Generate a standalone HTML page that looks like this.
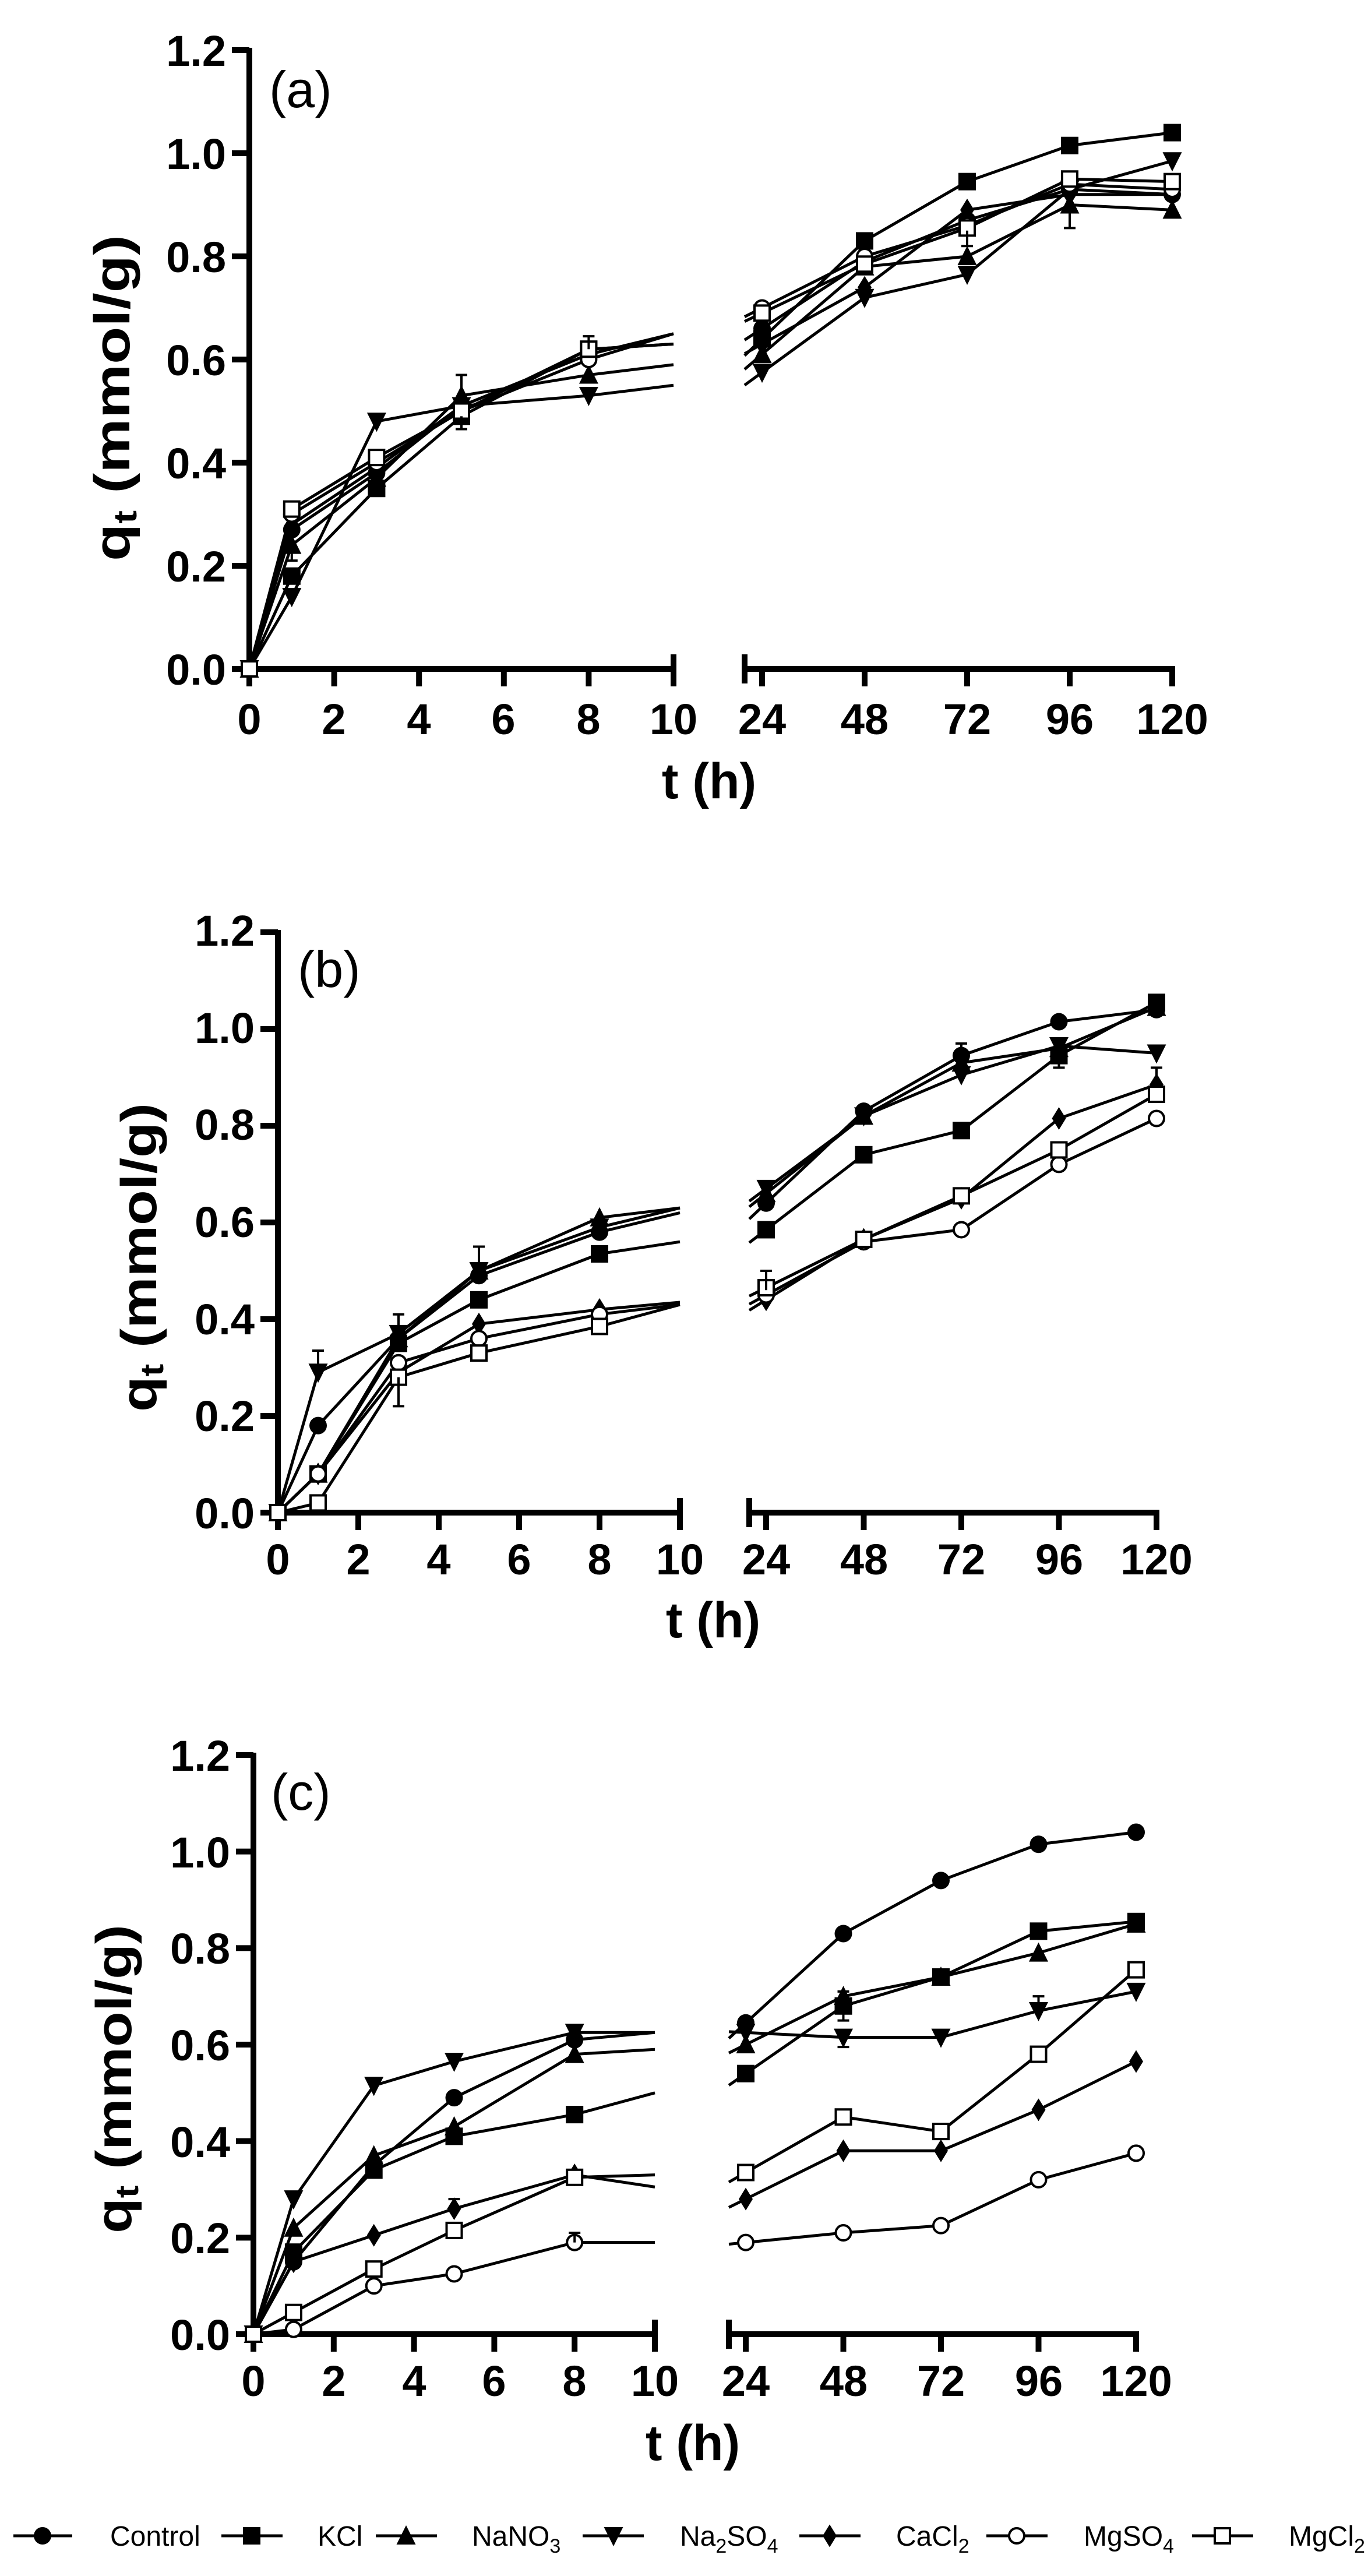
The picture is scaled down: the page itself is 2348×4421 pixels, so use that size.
<!DOCTYPE html>
<html><head><meta charset="utf-8"><style>
html,body{margin:0;padding:0;background:#fff;}
svg{display:block}
text{font-family:"Liberation Sans",Arial,sans-serif;fill:#000}
.tk{font-size:74px;font-weight:bold}
.ax{font-size:86px;font-weight:bold}
.pl{font-size:88px}
.lg{font-size:48px}
</style></head><body>
<svg id="s" width="2348" height="4421" viewBox="0 0 2348 4421" xmlns="http://www.w3.org/2000/svg">
<rect width="2348" height="4421" fill="#fff"/>
<g id="plots"></g>

<!-- Panel a text -->
<g class="tk" text-anchor="end">
<text x="388" y="1175">0.0</text><text x="388" y="998">0.2</text><text x="388" y="821">0.4</text><text x="388" y="644">0.6</text><text x="388" y="467">0.8</text><text x="388" y="290">1.0</text><text x="388" y="113">1.2</text>
</g>
<g class="tk" text-anchor="middle">
<text x="428" y="1260">0</text><text x="573" y="1260">2</text><text x="719" y="1260">4</text><text x="864" y="1260">6</text><text x="1010" y="1260">8</text><text x="1156" y="1260">10</text>
<text x="1308" y="1260">24</text><text x="1484" y="1260">48</text><text x="1660" y="1260">72</text><text x="1836" y="1260">96</text><text x="2012" y="1260">120</text>
</g>
<text class="ax" x="1217" y="1370" text-anchor="middle">t (h)</text>
<text class="pl" x="462" y="184">(a)</text>
<text class="ax" transform="translate(222,683) rotate(-90)" text-anchor="middle" textLength="560" lengthAdjust="spacingAndGlyphs">q<tspan font-size="56" dy="12">t</tspan><tspan dy="-12"> (mmol/g)</tspan></text>

<!-- Panel b text -->
<g class="tk" text-anchor="end">
<text x="437" y="2623">0.0</text><text x="437" y="2456">0.2</text><text x="437" y="2290">0.4</text><text x="437" y="2123">0.6</text><text x="437" y="1956">0.8</text><text x="437" y="1790">1.0</text><text x="437" y="1623">1.2</text>
</g>
<g class="tk" text-anchor="middle">
<text x="477" y="2702">0</text><text x="615" y="2702">2</text><text x="753" y="2702">4</text><text x="891" y="2702">6</text><text x="1029" y="2702">8</text><text x="1167" y="2702">10</text>
<text x="1315" y="2702">24</text><text x="1483" y="2702">48</text><text x="1650" y="2702">72</text><text x="1818" y="2702">96</text><text x="1985" y="2702">120</text>
</g>
<text class="ax" x="1224" y="2810" text-anchor="middle">t (h)</text>
<text class="pl" x="511" y="1694">(b)</text>
<text class="ax" transform="translate(268,2158) rotate(-90)" text-anchor="middle" textLength="530" lengthAdjust="spacingAndGlyphs">q<tspan font-size="56" dy="12">t</tspan><tspan dy="-12"> (mmol/g)</tspan></text>

<!-- Panel c text -->
<g class="tk" text-anchor="end">
<text x="395" y="4033">0.0</text><text x="395" y="3867">0.2</text><text x="395" y="3702">0.4</text><text x="395" y="3536">0.6</text><text x="395" y="3370">0.8</text><text x="395" y="3205">1.0</text><text x="395" y="3039">1.2</text>
</g>
<g class="tk" text-anchor="middle">
<text x="435" y="4112">0</text><text x="573" y="4112">2</text><text x="711" y="4112">4</text><text x="848" y="4112">6</text><text x="986" y="4112">8</text><text x="1124" y="4112">10</text>
<text x="1280" y="4112">24</text><text x="1448" y="4112">48</text><text x="1615" y="4112">72</text><text x="1783" y="4112">96</text><text x="1950" y="4112">120</text>
</g>
<text class="ax" x="1189" y="4222" text-anchor="middle">t (h)</text>
<text class="pl" x="465" y="3106">(c)</text>
<text class="ax" transform="translate(225,3568) rotate(-90)" text-anchor="middle" textLength="530" lengthAdjust="spacingAndGlyphs">q<tspan font-size="56" dy="12">t</tspan><tspan dy="-12"> (mmol/g)</tspan></text>

<!-- legend text -->
<g class="lg">
<text x="189" y="4369">Control</text>
<text x="545" y="4369">KCl</text>
<text x="810" y="4369">NaNO<tspan font-size="34" dy="12">3</tspan></text>
<text x="1167" y="4369">Na<tspan font-size="34" dy="12">2</tspan><tspan dy="-12">SO</tspan><tspan font-size="34" dy="12">4</tspan></text>
<text x="1538" y="4369">CaCl<tspan font-size="34" dy="12">2</tspan></text>
<text x="1860" y="4369">MgSO<tspan font-size="34" dy="12">4</tspan></text>
<text x="2212" y="4369">MgCl<tspan font-size="34" dy="12">2</tspan></text>
</g>
</svg>
<script>
var NS="http://www.w3.org/2000/svg",G=document.getElementById("plots");
function el(t,a){var e=document.createElementNS(NS,t);for(var k in a)e.setAttribute(k,a[k]);G.appendChild(e);return e;}
function marker(type,x,y,s){
 s=s||15;
 if(type==0)el("circle",{cx:x,cy:y,r:s,fill:"#000"});
 else if(type==1)el("rect",{x:x-s,y:y-s,width:2*s,height:2*s,fill:"#000"});
 else if(type==2)el("polygon",{points:(x)+","+(y-s*1.2)+" "+(x+s*1.1)+","+(y+s)+" "+(x-s*1.1)+","+(y+s),fill:"#000"});
 else if(type==3)el("polygon",{points:(x)+","+(y+s*1.2)+" "+(x+s*1.1)+","+(y-s)+" "+(x-s*1.1)+","+(y-s),fill:"#000"});
 else if(type==4)el("polygon",{points:x+","+(y-s*1.3)+" "+(x+s*0.8)+","+y+" "+x+","+(y+s*1.3)+" "+(x-s*0.8)+","+y,fill:"#000"});
 else if(type==5)el("circle",{cx:x,cy:y,r:s-2,fill:"#fff",stroke:"#000","stroke-width":4});
 else if(type==6)el("rect",{x:x-s+2,y:y-s+2,width:2*s-4,height:2*s-4,fill:"#fff",stroke:"#000","stroke-width":4});
}
function panel(P,D){
 var X=function(t){return P.x0+t*(P.x10-P.x0)/10;};
 var XR=function(t){return P.x24+(t-24)*(P.x120-P.x24)/96;};
 var Y=function(v){return P.y0-v*(P.y0-P.y12)/1.2;};
 // axes
 el("line",{x1:P.x0,y1:P.y12-4,x2:P.x0,y2:P.y0+30,stroke:"#000","stroke-width":10});
 el("line",{x1:P.x0-5,y1:P.y0,x2:P.x10,y2:P.y0,stroke:"#000","stroke-width":10});
 el("line",{x1:P.rs,y1:P.y0,x2:P.x120+5,y2:P.y0,stroke:"#000","stroke-width":10});
 for(var i=0;i<=6;i++){var yy=Y(i*0.2);el("line",{x1:P.x0-30,y1:yy,x2:P.x0,y2:yy,stroke:"#000","stroke-width":10});}
 for(var t=0;t<=10;t+=2){el("line",{x1:X(t),y1:P.y0,x2:X(t),y2:P.y0+30,stroke:"#000","stroke-width":10});}
 el("line",{x1:P.x10,y1:P.y0-25,x2:P.x10,y2:P.y0+30,stroke:"#000","stroke-width":10});
 el("line",{x1:P.rs,y1:P.y0-25,x2:P.rs,y2:P.y0+25,stroke:"#000","stroke-width":10});
 for(var t=24;t<=120;t+=24){el("line",{x1:XR(t),y1:P.y0,x2:XR(t),y2:P.y0+30,stroke:"#000","stroke-width":10});}
 var tl=[0,1,3,5,8],tr=[24,48,72,96,120];
 D.forEach(function(s,k){
  var L=s[0],e10=s[1],R=s[2];
  var pts=tl.map(function(t,i){return X(t)+","+Y(L[i]);}).join(" ")+" "+X(10)+","+Y(e10);
  el("polyline",{points:pts,fill:"none",stroke:"#000","stroke-width":5});
  var st=R[0]-(R[1]-R[0])*(24-((P.rs-P.x24)*96/(P.x120-P.x24)+24))/-24*-1;
  var tst=(P.rs-P.x24)*96/(P.x120-P.x24)+24;
  var vst=R[0]+(R[1]-R[0])*(tst-24)/24;
  var pr=P.rs+","+Y(vst)+" "+tr.map(function(t,i){return XR(t)+","+Y(R[i]);}).join(" ");
  el("polyline",{points:pr,fill:"none",stroke:"#000","stroke-width":5});
 });
 D.forEach(function(s,k){
  s[0].forEach(function(v,i){marker(k,X(tl[i]),Y(v));});
  s[2].forEach(function(v,i){marker(k,XR(tr[i]),Y(v));});
 });
 (P.eb||[]).forEach(function(e){var x=e[2]?XR(e[0]):X(e[0]);
  el("line",{x1:x,y1:Y(e[1]),x2:x,y2:Y(e[3]),stroke:"#000","stroke-width":4});
  el("line",{x1:x-10,y1:Y(e[3]),x2:x+10,y2:Y(e[3]),stroke:"#000","stroke-width":4});});
}
panel({x0:428,x10:1156,rs:1278,x24:1308,x120:2012,y0:1148,y12:86,
 eb:[[96,0.9,1,0.855],[5,0.52,0,0.57],[5,0.49,0,0.465],[8,0.62,0,0.645],[1,0.24,0,0.21],[72,0.85,1,0.82]]},[
 [[0,0.27,0.38,0.51,0.61],0.65,[0.66,0.79,0.87,0.93,0.92]],
 [[0,0.18,0.35,0.49,0.62],0.63,[0.64,0.83,0.945,1.015,1.04]],
 [[0,0.24,0.37,0.53,0.57],0.59,[0.61,0.78,0.80,0.90,0.89]],
 [[0,0.14,0.48,0.51,0.53],0.55,[0.575,0.72,0.765,0.93,0.985]],
 [[0,0.28,0.39,0.51,0.61],0.65,[0.63,0.74,0.89,0.92,0.92]],
 [[0,0.30,0.40,0.50,0.60],0.65,[0.70,0.80,0.86,0.94,0.93]],
 [[0,0.31,0.41,0.50,0.62],0.63,[0.69,0.785,0.855,0.95,0.945]]]);
panel({x0:477,x10:1167,rs:1286,x24:1315,x120:1985,y0:2596,y12:1600,
 eb:[[1,0.29,0,0.335],[3,0.37,0,0.41],[5,0.49,0,0.55],[3,0.28,0,0.22],[24,0.46,1,0.5],[72,0.94,1,0.97],[120,0.88,1,0.92],[96,0.96,1,0.92]]},[
 [[0,0.18,0.36,0.49,0.58],0.62,[0.64,0.83,0.945,1.015,1.04]],
 [[0,0.08,0.35,0.44,0.535],0.56,[0.585,0.74,0.79,0.945,1.055]],
 [[0,0.08,0.36,0.50,0.61],0.63,[0.66,0.82,0.93,0.96,1.045]],
 [[0,0.29,0.37,0.50,0.59],0.63,[0.67,0.82,0.905,0.965,0.95]],
 [[0,0.08,0.29,0.39,0.42],0.435,[0.44,0.565,0.65,0.815,0.885]],
 [[0,0.08,0.31,0.36,0.41],0.43,[0.45,0.56,0.585,0.72,0.815]],
 [[0,0.02,0.28,0.33,0.385],0.43,[0.465,0.565,0.655,0.75,0.865]]]);
panel({x0:435,x10:1124,rs:1251,x24:1280,x120:1950,y0:4006,y12:3012,
 eb:[[48,0.615,1,0.595],[96,0.67,1,0.70],[48,0.70,1,0.71],[8,0.19,0,0.21],[5,0.26,0,0.28],[48,0.68,1,0.65]]},[
 [[0,0.15,0.35,0.49,0.61],0.625,[0.645,0.83,0.94,1.015,1.04]],
 [[0,0.17,0.34,0.41,0.455],0.50,[0.54,0.68,0.74,0.835,0.855]],
 [[0,0.22,0.37,0.43,0.58],0.59,[0.60,0.70,0.74,0.79,0.85]],
 [[0,0.28,0.515,0.565,0.625],0.625,[0.625,0.615,0.615,0.67,0.71]],
 [[0,0.15,0.205,0.26,0.33],0.305,[0.28,0.38,0.38,0.465,0.565]],
 [[0,0.01,0.10,0.125,0.19],0.19,[0.19,0.21,0.225,0.32,0.375]],
 [[0,0.045,0.135,0.215,0.325],0.33,[0.335,0.45,0.42,0.58,0.755]]]);
// legend markers
[[23,124,73],[380,485,432],[645,750,697],[1000,1105,1053],[1372,1477,1424],[1693,1798,1745],[2046,2151,2098]].forEach(function(m,k){
 el("line",{x1:m[0],y1:4352,x2:m[1],y2:4352,stroke:"#000","stroke-width":5});marker(k,m[2],4352);
});
</script>
</body></html>
